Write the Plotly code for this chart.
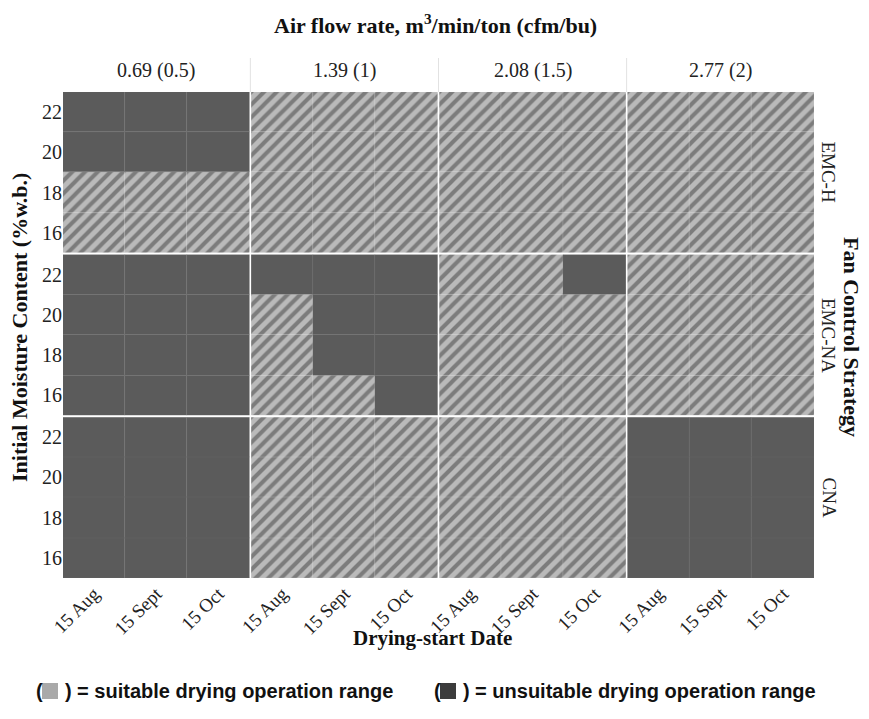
import plotly.graph_objects as go
from plotly.subplots import make_subplots

# ---------------- data ----------------
airflow_labels = ["0.69 (0.5)", "1.39 (1)", "2.08 (1.5)", "2.77 (2)"]
strategies = ["EMC-H", "EMC-NA", "CNA"]
dates = ["15 Aug", "15 Sept", "15 Oct"]
moisture = [16, 18, 20, 22]

# suitability: 1 = suitable, 0 = unsuitable
# indexed [airflow][date] -> list over moisture (16,18,20,22)
emc_h = [
    [[1, 1, 0, 0], [1, 1, 0, 0], [1, 1, 0, 0]],
    [[1, 1, 1, 1], [1, 1, 1, 1], [1, 1, 1, 1]],
    [[1, 1, 1, 1], [1, 1, 1, 1], [1, 1, 1, 1]],
    [[1, 1, 1, 1], [1, 1, 1, 1], [1, 1, 1, 1]],
]
emc_na = [
    [[0, 0, 0, 0], [0, 0, 0, 0], [0, 0, 0, 0]],
    [[1, 1, 1, 0], [1, 0, 0, 0], [0, 0, 0, 0]],
    [[1, 1, 1, 1], [1, 1, 1, 1], [1, 1, 1, 0]],
    [[1, 1, 1, 1], [1, 1, 1, 1], [1, 1, 1, 1]],
]
cna = [
    [[0, 0, 0, 0], [0, 0, 0, 0], [0, 0, 0, 0]],
    [[1, 1, 1, 1], [1, 1, 1, 1], [1, 1, 1, 1]],
    [[1, 1, 1, 1], [1, 1, 1, 1], [1, 1, 1, 1]],
    [[0, 0, 0, 0], [0, 0, 0, 0], [0, 0, 0, 0]],
]
suitability = [emc_h, emc_na, cna]
cell_height = 2

# ---------------- styles ----------------
DARK = "#5b5b5b"
HATCH_BG = "#bababa"
HATCH_FG = "#7c7c7c"
SERIF = "Liberation Serif, Times New Roman, serif"
SANS_N = "Liberation Sans Narrow, Liberation Sans, Arial, sans-serif"

# plot-area geometry (page pixels) used to place text in paper units
PL, PR, PT, PB = 63, 814, 92, 578
PW, PH = PR - PL, PB - PT


def px(xpage):
    return (xpage - PL) / PW


def py(ypage):
    return (PB - ypage) / PH


fig = make_subplots(rows=3, cols=4, shared_xaxes=True, shared_yaxes=True,
                    horizontal_spacing=0.002, vertical_spacing=0.0035)

for r, strat in enumerate(strategies):
    for c in range(len(airflow_labels)):
        sx, sb, ux, ub = [], [], [], []
        for d, date in enumerate(dates):
            for m, mc in enumerate(moisture):
                if suitability[r][c][d][m] == 1:
                    sx.append(date); sb.append(mc - cell_height / 2)
                else:
                    ux.append(date); ub.append(mc - cell_height / 2)
        if sx:
            fig.add_trace(go.Bar(
                x=sx, y=[cell_height] * len(sx), base=sb, width=1,
                marker=dict(color=HATCH_BG,
                            line=dict(width=0.5, color="rgba(225,225,225,0.35)"),
                            pattern=dict(shape="/", fgcolor=HATCH_FG, bgcolor=HATCH_BG,
                                         size=9, solidity=0.45, fillmode="replace")),
                showlegend=False, hoverinfo="skip"), row=r + 1, col=c + 1)
        if ux:
            fig.add_trace(go.Bar(
                x=ux, y=[cell_height] * len(ux), base=ub, width=1,
                marker=dict(color=DARK,
                            line=dict(width=0.5, color="rgba(110,110,110,0.5)")),
                showlegend=False, hoverinfo="skip"), row=r + 1, col=c + 1)

fig.update_xaxes(type="category", categoryorder="array", categoryarray=dates,
                 range=[-0.5, 2.5], showgrid=False, zeroline=False, ticks="",
                 tickangle=-45, tickfont=dict(family=SERIF, size=19, color="#222"),
                 showline=False, automargin=False)
fig.update_yaxes(range=[15, 23], tickvals=moisture, showgrid=False, zeroline=False,
                 ticks="", tickfont=dict(family=SERIF, size=20, color="#222"),
                 showline=False, automargin=False)

ann = []
base = dict(xref="paper", yref="paper", showarrow=False,
            xanchor="center", yanchor="middle")
# top strip labels
for c, lab in enumerate(airflow_labels):
    xa = fig.layout["xaxis" if c == 0 else f"xaxis{c + 1}"].domain
    ann.append(dict(base, text=lab, x=(xa[0] + xa[1]) / 2, y=py(70),
                    font=dict(family=SERIF, size=20, color="#222")))
# right strip labels
for r, s in enumerate(strategies):
    ya = fig.layout["yaxis" if r == 0 else f"yaxis{r * 4 + 1}"].domain
    ann.append(dict(base, text=s, x=px(829), y=(ya[0] + ya[1]) / 2, textangle=90,
                    font=dict(family=SERIF, size=19, color="#222")))
ann.append(dict(base, text="<b>Fan Control Strategy</b>", x=px(852), y=py(337),
                textangle=90, font=dict(family=SERIF, size=22, color="#111")))
ann.append(dict(base, text="<b>Air flow rate, m<sup>3</sup>/min/ton (cfm/bu)</b>",
                x=px(435), y=py(24), font=dict(family=SERIF, size=22, color="#111")))
ann.append(dict(base, text="<b>Drying-start Date</b>", x=px(432), y=py(638),
                font=dict(family=SERIF, size=21, color="#111")))
ann.append(dict(base, text="<b>Initial Moisture Content (%w.b.)</b>", x=px(19),
                y=py(328), textangle=-90, font=dict(family=SERIF, size=22, color="#111")))
# bottom key
ann.append(dict(base, text="<b>(    ) = suitable drying operation range</b>",
                x=px(34), y=py(691), xanchor="left",
                font=dict(family=SANS_N, size=20, color="#111")))
ann.append(dict(base, text="<b>(    ) = unsuitable drying operation range</b>",
                x=px(432), y=py(691), xanchor="left",
                font=dict(family=SANS_N, size=20, color="#111")))

shapes = [
    dict(type="rect", xref="paper", yref="paper",
         x0=px(42), x1=px(58), y0=py(699), y1=py(683),
         fillcolor="#a9a9a9", line=dict(width=0)),
    dict(type="rect", xref="paper", yref="paper",
         x0=px(440), x1=px(456), y0=py(699), y1=py(683),
         fillcolor="#3c3c3c", line=dict(width=0)),
]
# strip separators at top
for c in range(1, len(airflow_labels)):
    xa = fig.layout[f"xaxis{c + 1}"].domain
    shapes.append(dict(type="line", xref="paper", yref="paper", x0=xa[0] - 0.001,
                       x1=xa[0] - 0.001, y0=1.0, y1=py(58),
                       line=dict(color="#e2e2e2", width=1)))

# the page body adds an 8px offset, so the figure is 8px smaller and margins shifted
OFF = 8
fig.update_layout(width=869 - OFF, height=719 - OFF, barmode="overlay", bargap=0,
                  margin=dict(l=PL - OFF, r=869 - PR, t=PT - OFF, b=719 - PB,
                              autoexpand=False),
                  paper_bgcolor="white", plot_bgcolor="white",
                  annotations=ann, shapes=shapes)

fig.write_html("out.html")
